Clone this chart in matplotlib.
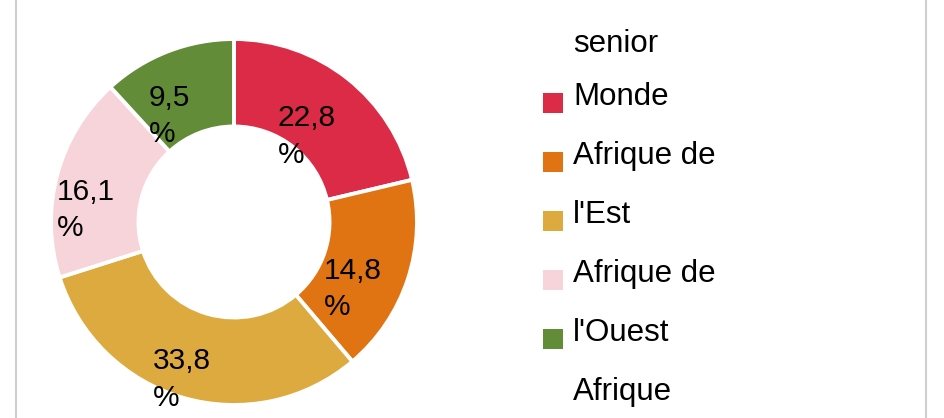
import numpy as np
import matplotlib
matplotlib.use("Agg")
import matplotlib.pyplot as plt
from matplotlib.patches import Rectangle
from matplotlib.lines import Line2D

plt.rcParams['font.family'] = ['Liberation Sans', 'DejaVu Sans']

# Data
categories = ["Monde", "Afrique de l'Est", "Afrique de l'Est b", "Afrique de l'Ouest", "Afrique"]
wedge_values = [21.3, 17.5, 31.3, 18.1, 11.8]      # wedge sizes as drawn
label_values = [22.8, 14.8, 33.8, 16.1, 9.5]       # printed data labels
colors = ["#DC2B47", "#E07413", "#DDAA40", "#F7D3DA", "#628C37"]
legend_labels = ["senior", "Monde", "Afrique de", "l'Est", "Afrique de", "l'Ouest", "Afrique"]
legend_colors = [None, "#DC2B47", "#E07413", "#DDAA40", "#F7D3DA", "#628C37", None]

W, H = 945, 418
fig = plt.figure(figsize=(W / 100, H / 100), dpi=100)

cx, cy, R = 234, 222, 183
ax = fig.add_axes([(cx - R) / W, (H - cy - R) / H, 2 * R / W, 2 * R / H])

ring = 0.478
wedges, _ = ax.pie(wedge_values, colors=colors, startangle=90, counterclock=False,
                   radius=1, wedgeprops=dict(width=ring, edgecolor='white', linewidth=2.8))
ax.set_xlim(-1, 1)
ax.set_ylim(-1, 1)
ax.set_aspect('equal')
ax.axis('off')

rmid = 1 - ring / 2
for w, v in zip(wedges, label_values):
    ang = np.deg2rad((w.theta1 + w.theta2) / 2)
    x, y = rmid * np.cos(ang), rmid * np.sin(ang)
    txt = f"{v:.1f}".replace('.', ',') + "\n%"
    ax.annotate(txt, xy=(x, y), xytext=(-10, -17), textcoords='offset points',
                ha='center', va='center', multialignment='left', fontsize=21.5,
                linespacing=1.38, color='black', annotation_clip=False)

# Legend (manual)
def fx(px):
    return px / W

def fy(py):
    return 1 - py / H

for i, (lab, col) in enumerate(zip(legend_labels, legend_colors)):
    base = 52 if i == 0 else 105 + 59 * (i - 1)
    fig.text(fx(573), fy(base), lab, fontsize=22.5, ha='left', va='baseline', color='black')
    if col is not None:
        fig.add_artist(Rectangle((fx(543), fy(base + 8)), 20 / W, 20 / H,
                                 transform=fig.transFigure, facecolor=col, edgecolor='none'))

# frame lines
for xp in (16, 926.5):
    fig.add_artist(Line2D([fx(xp), fx(xp)], [0, 1], transform=fig.transFigure,
                          color='#CFCFCF', linewidth=1.5))

fig.savefig("out.png", dpi=100)
